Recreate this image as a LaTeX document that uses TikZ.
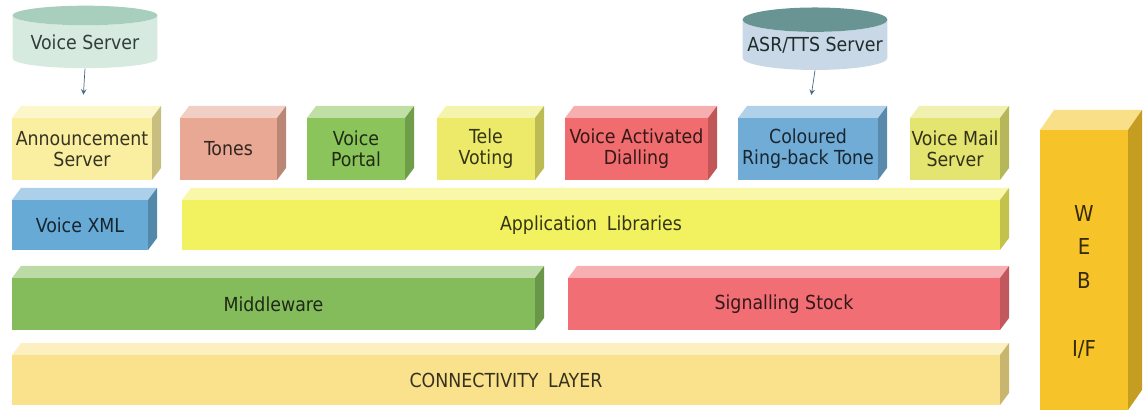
\documentclass[tikz,border=0pt]{standalone}
\usepackage{fontspec}
\setmainfont{DejaVu Sans Condensed}
\usetikzlibrary{shapes.geometric}
\definecolor{Ann}{RGB}{250,238,160}
\definecolor{Ton}{RGB}{232,168,148}
\definecolor{Por}{RGB}{140,196,92}
\definecolor{Tel}{RGB}{236,234,104}
\definecolor{Vad}{RGB}{240,108,110}
\definecolor{Crb}{RGB}{112,172,214}
\definecolor{Vms}{RGB}{228,228,112}
\definecolor{Xml}{RGB}{104,170,214}
\definecolor{Lib}{RGB}{242,242,96}
\definecolor{Mid}{RGB}{132,188,92}
\definecolor{Sig}{RGB}{240,110,116}
\definecolor{Con}{RGB}{250,226,140}
\definecolor{Web}{RGB}{246,196,40}
\definecolor{VsBody}{RGB}{214,234,224}
\definecolor{VsEnd}{RGB}{168,206,190}
\definecolor{AsBody}{RGB}{200,216,230}
\definecolor{AsEnd}{RGB}{104,148,148}
\newcommand{\dx}{9}
\newcommand{\dy}{12}
% block: name, x1, y1, x2, y2, colour, text (pixel units)
\newcommand{\block}[7]{%
  \fill[#6!55!white] (#2,#3) -- ++(\dx,-\dy) -- (#4+\dx,#3-\dy) -- (#4,#3) -- cycle;
  \fill[#6!80!black] (#4,#3) -- ++(\dx,-\dy) -- (#4+\dx,#5-\dy) -- (#4,#5) -- cycle;
  \node[face, fill=#6, text=#6!22!black, minimum width={(#4-#2)*0.02cm},
    minimum height={(#5-#3)*0.02cm}] (#1) at ({(#2+#4)/2},{(#3+#5)/2}) {#7};
}
\tikzset{
  face/.style={inner sep=0pt, align=center, font=\fontsize{11}{12}\selectfont},
  server/.style={cylinder, shape border rotate=90, aspect=0.18, inner sep=0pt,
    minimum width=2.9cm, minimum height=1.25cm, cylinder uses custom fill,
    font=\fontsize{11}{12}\selectfont},
  feed/.style={-stealth, draw=Crb!60!black, shorten >=0.46cm}
}

\begin{document}
\begin{tikzpicture}[x=0.02cm, y=-0.02cm]
\useasboundingbox (0,0) rectangle (1143,415);
% servers
\node[server, cylinder body fill=VsBody, cylinder end fill=VsEnd, text=VsEnd!30!black]
  (vs) at (85,42) {Voice Server};
\node[server, cylinder body fill=AsBody, cylinder end fill=AsEnd, text=AsEnd!30!black]
  (asr) at (815,45) {ASR/TTS Server};
% services
\block{ann}{12}{118}{152}{180}{Ann}{Announcement\\Server}
\block{ton}{180}{118}{277}{180}{Ton}{Tones}
\block{por}{307}{118}{405}{180}{Por}{Voice\\Portal}
\block{tel}{437}{118}{535}{180}{Tel}{Tele\\Voting}
\block{vad}{565}{118}{708}{180}{Vad}{Voice Activated\\Dialling}
\block{crb}{738}{118}{878}{180}{Crb}{Coloured\\Ring-back Tone}
\block{vms}{910}{118}{1000}{180}{Vms}{Voice Mail\\Server}
% layers
\block{xml}{12}{200}{148}{250}{Xml}{Voice XML}
\block{lib}{182}{200}{1000}{250}{Lib}{Application\enspace Libraries}
\block{mid}{12}{278}{535}{330}{Mid}{Middleware}
\block{sig}{568}{278}{1000}{330}{Sig}{Signalling Stock}
\block{con}{12}{355}{1000}{405}{Con}{CONNECTIVITY\enspace LAYER}
\begin{scope}
\renewcommand{\dx}{14}
\renewcommand{\dy}{20}
\block{web}{1040}{130}{1128}{410}{Web}{}
\end{scope}
\node[face, font=\fontsize{12.5}{13}\selectfont, text=Web!22!black]
  (webtxt) at (1084,282) {W\\[6pt]E\\[6pt]B\\[26pt]I/F};
% links
\draw[feed] (vs.south) -- (ann.north);
\draw[feed] (asr.south) -- (crb.north);
\end{tikzpicture}
\end{document}
